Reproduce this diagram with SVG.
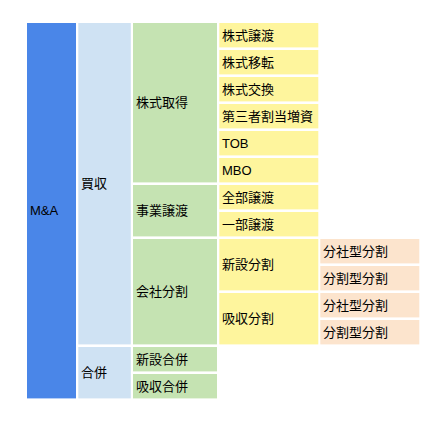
<svg xmlns="http://www.w3.org/2000/svg" width="448" height="429" viewBox="0 0 448 429">
<style>
text{font-family:"Liberation Sans","Noto Sans CJK JP",sans-serif;font-size:13px;fill:#000}
.c0{fill:#4a86e8}.c1{fill:#cfe2f3}.c2{fill:#c5e3b2}.c3{fill:#fef59d}.c4{fill:#fce4cd}
</style>
<rect width="448" height="429" fill="#fff"/>
<g id="n-ma"><rect class="c0" x="27" y="23" width="49" height="375.4"/><text x="30" y="215.2">M&amp;A</text></g>
<g id="n-baishu"><rect class="c1" x="78.3" y="23" width="52.5" height="321.4"/><text x="81" y="188.2">買収</text></g>
<g id="n-gappei"><rect class="c1" x="78.3" y="347" width="52.5" height="51.4"/><text x="81" y="377.2">合併</text></g>
<g id="n-kabushikishutoku"><rect class="c2" x="133" y="23" width="84" height="159.4"/><text x="136" y="107.2">株式取得</text></g>
<g id="n-jigyojoto"><rect class="c2" x="133" y="185" width="84" height="51.4"/><text x="136" y="215.2">事業譲渡</text></g>
<g id="n-kaishabunkatsu"><rect class="c2" x="133" y="239" width="84" height="105.4"/><text x="136" y="296.2">会社分割</text></g>
<g id="n-shinsetsugappei"><rect class="c2" x="133" y="347" width="84" height="24.4"/><text x="136" y="363.7">新設合併</text></g>
<g id="n-kyushugappei"><rect class="c2" x="133" y="374" width="84" height="24.4"/><text x="136" y="390.7">吸収合併</text></g>
<g id="n-kabushikijoto"><rect class="c3" x="219.3" y="23" width="99" height="24.4"/><text x="222" y="39.7">株式譲渡</text></g>
<g id="n-kabushikiiten"><rect class="c3" x="219.3" y="50" width="99" height="24.4"/><text x="222" y="66.7">株式移転</text></g>
<g id="n-kabushikikokan"><rect class="c3" x="219.3" y="77" width="99" height="24.4"/><text x="222" y="93.7">株式交換</text></g>
<g id="n-daisansha"><rect class="c3" x="219.3" y="104" width="99" height="24.4"/><text x="222" y="120.7">第三者割当増資</text></g>
<g id="n-tob"><rect class="c3" x="219.3" y="131" width="99" height="24.4"/><text x="222" y="147.7">TOB</text></g>
<g id="n-mbo"><rect class="c3" x="219.3" y="158" width="99" height="24.4"/><text x="222" y="174.7">MBO</text></g>
<g id="n-zenbujoto"><rect class="c3" x="219.3" y="185" width="99" height="24.4"/><text x="222" y="201.7">全部譲渡</text></g>
<g id="n-ichibujoto"><rect class="c3" x="219.3" y="212" width="99" height="24.4"/><text x="222" y="228.7">一部譲渡</text></g>
<g id="n-shinsetsubunkatsu"><rect class="c3" x="219.3" y="239" width="99" height="51.4"/><text x="222" y="269.2">新設分割</text></g>
<g id="n-kyushubunkatsu"><rect class="c3" x="219.3" y="293" width="99" height="51.4"/><text x="222" y="323.2">吸収分割</text></g>
<g id="n-bunshagata1"><rect class="c4" x="320.3" y="239" width="99" height="24.4"/><text x="323" y="255.7">分社型分割</text></g>
<g id="n-bunkatsugata1"><rect class="c4" x="320.3" y="266" width="99" height="24.4"/><text x="323" y="282.7">分割型分割</text></g>
<g id="n-bunshagata2"><rect class="c4" x="320.3" y="293" width="99" height="24.4"/><text x="323" y="309.7">分社型分割</text></g>
<g id="n-bunkatsugata2"><rect class="c4" x="320.3" y="320" width="99" height="24.4"/><text x="323" y="336.7">分割型分割</text></g>
<g id="connectors"/>
</svg>
